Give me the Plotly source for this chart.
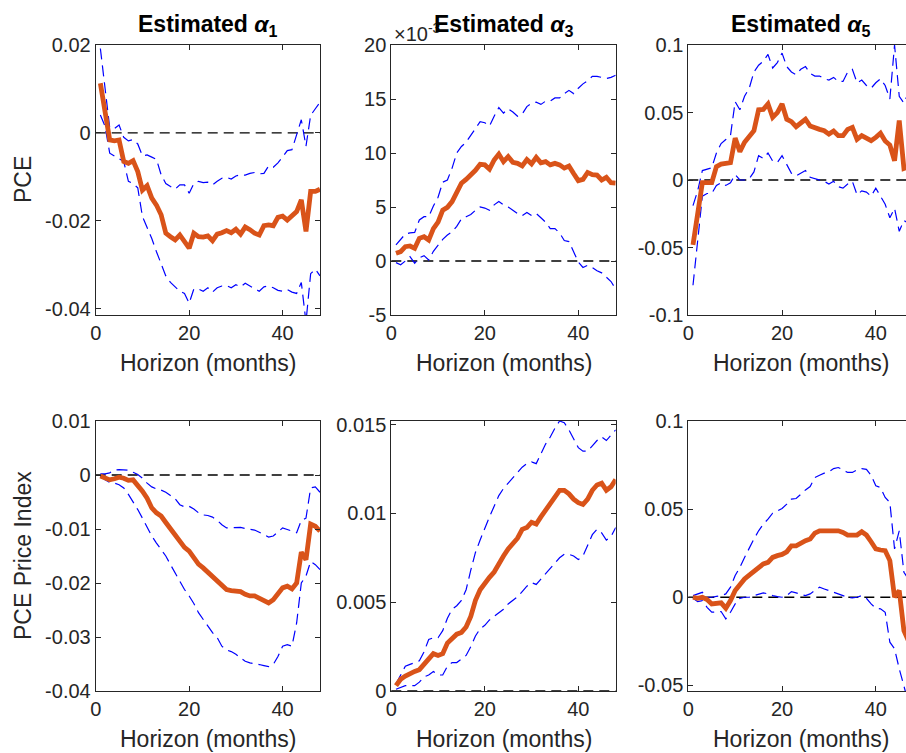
import plotly.graph_objects as go

# ---------------- data ----------------
horizon = list(range(1, 49))

# Row 1: PCE
pce_a1_mean = [0.0113, 0.0052, -0.0016, -0.0018, -0.0016, -0.0065, -0.0069, -0.0063, -0.0088, -0.0130,
               -0.0120, -0.0148, -0.0164, -0.0186, -0.0228, -0.0236, -0.0243, -0.0232, -0.0247, -0.0262,
               -0.0228, -0.0236, -0.0237, -0.0234, -0.0245, -0.0230, -0.0227, -0.0222, -0.0227, -0.0219,
               -0.0230, -0.0214, -0.0220, -0.0228, -0.0232, -0.0211, -0.0209, -0.0211, -0.0192, -0.0189,
               -0.0198, -0.0190, -0.0179, -0.0152, -0.0224, -0.0133, -0.0133, -0.0128]
pce_a1_upper = [0.0192, 0.0100, 0.0012, 0.0010, 0.0018, -0.0010, -0.0018, -0.0015, -0.0025, -0.0052,
                -0.0050, -0.0055, -0.0060, -0.0095, -0.0115, -0.0122, -0.0128, -0.0118, -0.0118, -0.0137,
                -0.0115, -0.0110, -0.0113, -0.0112, -0.0118, -0.0110, -0.0103, -0.0101, -0.0105, -0.0098,
                -0.0095, -0.0096, -0.0092, -0.0090, -0.0093, -0.0092, -0.0075, -0.0078, -0.0068, -0.0055,
                -0.0040, -0.0038, -0.0005, 0.0030, -0.0030, 0.0040, 0.0055, 0.0070]
pce_a1_lower = [0.0041, 0.0015, -0.0046, -0.0052, -0.0058, -0.0065, -0.0110, -0.0115, -0.0125, -0.0190,
                -0.0215, -0.0240, -0.0270, -0.0300, -0.0325, -0.0340, -0.0350, -0.0360, -0.0365, -0.0387,
                -0.0355, -0.0355, -0.0360, -0.0352, -0.0362, -0.0352, -0.0348, -0.0347, -0.0352, -0.0345,
                -0.0350, -0.0342, -0.0348, -0.0355, -0.0360, -0.0350, -0.0348, -0.0352, -0.0358, -0.0360,
                -0.0356, -0.0362, -0.0365, -0.0340, -0.0430, -0.0320, -0.0310, -0.0325]

# values in units of 1e-3
pce_a3_mean = [0.71, 0.86, 1.33, 1.39, 1.17, 2.10, 2.25, 1.94, 3.00, 3.60,
               4.70, 4.97, 5.50, 6.40, 7.20, 7.56, 7.96, 8.40, 8.95, 8.90,
               8.50, 9.35, 9.90, 9.20, 9.66, 9.14, 9.04, 8.80, 9.40, 9.00,
               9.60, 9.10, 9.20, 8.90, 9.04, 8.90, 8.60, 8.80, 8.10, 7.44,
               7.56, 8.20, 8.00, 7.96, 7.50, 7.75, 7.25, 7.20]
pce_a3_upper = [1.50, 2.00, 2.50, 2.60, 2.65, 3.80, 4.10, 4.10, 5.10, 5.90,
                7.30, 7.50, 8.60, 10.00, 10.60, 11.00, 11.60, 12.30, 12.90, 12.80,
                12.50, 13.40, 14.20, 13.70, 14.10, 13.80, 13.40, 13.60, 14.30, 14.60,
                14.70, 14.50, 14.80, 14.80, 15.10, 15.10, 15.50, 15.80, 15.50, 16.00,
                16.40, 16.70, 17.10, 17.10, 17.00, 16.90, 17.00, 17.20]
pce_a3_lower = [-0.15, -0.35, 0.00, 0.40, -0.20, 0.30, 0.50, 0.10, 0.90, 1.50,
                2.00, 2.40, 2.70, 3.20, 3.90, 4.10, 4.30, 4.70, 5.00, 4.90,
                4.70, 5.20, 5.50, 5.20, 5.00, 4.70, 4.40, 4.20, 4.50, 4.20,
                4.40, 4.00, 3.60, 3.00, 3.00, 2.60, 1.90, 1.80, 0.90, -0.10,
                -0.60, -0.40, -0.60, -0.90, -1.10, -1.50, -1.90, -2.60]

pce_a5_mean = [-0.0480, -0.0247, -0.0020, -0.0020, -0.0020, 0.0099, 0.0118, 0.0123, 0.0128, 0.0310,
               0.0210, 0.0280, 0.0320, 0.0365, 0.0520, 0.0523, 0.0563, 0.0464, 0.0499, 0.0563,
               0.0450, 0.0432, 0.0395, 0.0420, 0.0450, 0.0400, 0.0383, 0.0375, 0.0365, 0.0340,
               0.0363, 0.0328, 0.0328, 0.0375, 0.0390, 0.0301, 0.0328, 0.0314, 0.0291, 0.0316,
               0.0346, 0.0289, 0.0259, 0.0143, 0.0440, 0.0086, 0.0100, 0.0080]
pce_a5_upper = [-0.019, -0.008, 0.007, 0.008, 0.009, 0.020, 0.027, 0.030, 0.033, 0.058,
                0.052, 0.062, 0.068, 0.080, 0.085, 0.088, 0.093, 0.083, 0.087, 0.094,
                0.084, 0.080, 0.078, 0.082, 0.084, 0.079, 0.077, 0.077, 0.075, 0.074,
                0.076, 0.073, 0.073, 0.080, 0.082, 0.072, 0.074, 0.070, 0.068, 0.072,
                0.075, 0.070, 0.060, 0.100, 0.062, 0.057, 0.065, 0.055]
pce_a5_lower = [-0.078, -0.045, -0.012, -0.010, -0.010, -0.004, -0.002, -0.004, -0.002, 0.004,
                0.000, 0.000, 0.001, 0.006, 0.018, 0.016, 0.020, 0.014, 0.013, 0.018,
                0.011, 0.005, 0.003, 0.005, 0.007, 0.002, 0.001, 0.000, -0.001, -0.003,
                -0.001, -0.005, -0.006, -0.003, -0.001, -0.011, -0.008, -0.009, -0.012, -0.006,
                -0.012, -0.018, -0.028, -0.021, -0.038, -0.030, -0.032, -0.040]

# Row 2: PCE Price Index
pcepi_a1_mean = [-0.0002, -0.0006, -0.0009, -0.0007, -0.0004, -0.0006, -0.0010, -0.0009, -0.0018, -0.0030,
                 -0.0043, -0.0061, -0.0070, -0.0076, -0.0088, -0.0100, -0.0112, -0.0125, -0.0134, -0.0141,
                 -0.0154, -0.0165, -0.0172, -0.0180, -0.0187, -0.0197, -0.0206, -0.0212, -0.0214, -0.0215,
                 -0.0216, -0.0221, -0.0224, -0.0224, -0.0228, -0.0232, -0.0237, -0.0231, -0.0221, -0.0209,
                 -0.0206, -0.0211, -0.0200, -0.0143, -0.0157, -0.0091, -0.0095, -0.0104]
pcepi_a1_upper = [0.0002, 0.0002, 0.0004, 0.0009, 0.0010, 0.0010, 0.0009, 0.0005, 0.0001, -0.0006,
                  -0.0015, -0.0022, -0.0026, -0.0028, -0.0032, -0.0038, -0.0044, -0.0055, -0.0059, -0.0058,
                  -0.0063, -0.0070, -0.0074, -0.0075, -0.0078, -0.0084, -0.0092, -0.0098, -0.0098, -0.0097,
                  -0.0097, -0.0099, -0.0101, -0.0102, -0.0106, -0.0110, -0.0115, -0.0113, -0.0106, -0.0098,
                  -0.0101, -0.0104, -0.0107, -0.0084, -0.0080, -0.0024, -0.0022, -0.0032]
pcepi_a1_lower = [-0.0002, -0.0009, -0.0014, -0.0015, -0.0018, -0.0024, -0.0036, -0.0049, -0.0064, -0.0080,
                  -0.0098, -0.0113, -0.0126, -0.0138, -0.0150, -0.0166, -0.0181, -0.0197, -0.0212, -0.0224,
                  -0.0238, -0.0255, -0.0268, -0.0280, -0.0292, -0.0301, -0.0317, -0.0324, -0.0327, -0.0332,
                  -0.0338, -0.0345, -0.0348, -0.0349, -0.0351, -0.0353, -0.0355, -0.0351, -0.0336, -0.0317,
                  -0.0314, -0.0317, -0.0274, -0.0200, -0.0187, -0.0160, -0.0166, -0.0175]

pcepi_a3_mean = [0.0003, 0.00066, 0.00084, 0.0010, 0.0011, 0.0012, 0.0015, 0.0018, 0.0021, 0.0020,
                 0.0021, 0.0027, 0.0030, 0.0032, 0.0033, 0.0036, 0.0042, 0.0051, 0.0057, 0.0061,
                 0.0064, 0.0067, 0.0072, 0.0076, 0.0080, 0.0083, 0.0086, 0.0091, 0.0092, 0.0095,
                 0.0094, 0.0098, 0.0102, 0.0105, 0.0109, 0.0113, 0.0113, 0.0111, 0.0108, 0.0106,
                 0.0105, 0.0108, 0.0113, 0.0116, 0.0117, 0.0113, 0.0115, 0.0119]
pcepi_a3_upper = [0.0004, 0.0009, 0.0014, 0.0015, 0.0016, 0.0017, 0.0022, 0.0029, 0.0030, 0.0030,
                  0.0034, 0.0041, 0.0046, 0.0048, 0.0051, 0.0057, 0.0068, 0.0078, 0.0085, 0.0092,
                  0.0098, 0.0104, 0.0110, 0.0114, 0.0117, 0.0120, 0.0123, 0.0126, 0.0128, 0.0129,
                  0.0128, 0.0134, 0.0139, 0.0143, 0.0148, 0.0152, 0.0151, 0.0147, 0.0142, 0.0137,
                  0.0135, 0.0135, 0.0138, 0.0141, 0.0143, 0.0141, 0.0144, 0.0147]
pcepi_a3_lower = [0.0001, 0.0002, 0.0003, 0.0003, 0.0003, 0.0005, 0.0008, 0.0009, 0.0011, 0.0009,
                  0.0009, 0.0014, 0.0016, 0.0016, 0.0018, 0.0020, 0.0025, 0.0031, 0.0035, 0.0037,
                  0.0040, 0.0042, 0.0044, 0.0046, 0.0049, 0.0051, 0.0053, 0.0056, 0.0059, 0.0061,
                  0.0060, 0.0063, 0.0066, 0.0069, 0.0072, 0.0075, 0.0077, 0.0077, 0.0076, 0.0074,
                  0.0076, 0.0082, 0.0088, 0.0091, 0.0089, 0.0085, 0.0087, 0.0092]

pcepi_a5_mean = [0.0000, -0.0006, 0.0000, -0.0013, -0.0038, -0.0038, -0.0032, -0.0062, -0.0019, 0.0038,
                 0.0075, 0.0104, 0.0126, 0.0147, 0.0170, 0.0189, 0.0198, 0.0226, 0.0236, 0.0243,
                 0.0258, 0.0292, 0.0292, 0.0308, 0.0321, 0.0330, 0.0364, 0.0377, 0.0377, 0.0379,
                 0.0383, 0.0377, 0.0368, 0.0353, 0.0353, 0.0353, 0.0372, 0.0353, 0.0315, 0.0274,
                 0.0268, 0.0264, 0.0208, 0.0000, 0.0038, -0.0189, -0.0250, -0.0300]
pcepi_a5_upper = [0.0009, 0.0019, 0.0028, 0.0000, 0.0000, 0.0005, 0.0009, 0.0019, 0.0057, 0.0123,
                  0.0170, 0.0226, 0.0283, 0.0330, 0.0377, 0.0415, 0.0443, 0.0477, 0.0490, 0.0504,
                  0.0528, 0.0557, 0.0560, 0.0585, 0.0609, 0.0628, 0.0679, 0.0692, 0.0704, 0.0711,
                  0.0730, 0.0736, 0.0721, 0.0708, 0.0708, 0.0723, 0.0730, 0.0726, 0.0692, 0.0632,
                  0.0623, 0.0566, 0.0538, 0.0274, 0.0377, 0.0142, 0.0100, 0.0050]
pcepi_a5_lower = [-0.0006, -0.0025, -0.0019, -0.0057, -0.0085, -0.0085, -0.0081, -0.0123, -0.0085, -0.0038,
                  -0.0006, 0.0000, 0.0000, 0.0009, 0.0015, 0.0025, 0.0019, 0.0009, 0.0004, 0.0000,
                  0.0009, 0.0032, 0.0025, 0.0019, 0.0009, 0.0019, 0.0038, 0.0057, 0.0047, 0.0038,
                  0.0028, 0.0019, 0.0009, 0.0000, -0.0004, 0.0000, 0.0009, -0.0006, -0.0038, -0.0062,
                  -0.0066, -0.0085, -0.0255, -0.0292, -0.0406, -0.0500, -0.0600, -0.0700]

# tick labels
x_ticks = [0, 20, 40]
x_ticktext = ["0", "20", "40"]
y_ticks_pce_a1 = [-0.04, -0.02, 0, 0.02]
y_text_pce_a1 = ["-0.04", "-0.02", "0", "0.02"]
y_ticks_pce_a3 = [-5, 0, 5, 10, 15, 20]
y_text_pce_a3 = ["-5", "0", "5", "10", "15", "20"]
y_ticks_pce_a5 = [-0.1, -0.05, 0, 0.05, 0.1]
y_text_pce_a5 = ["-0.1", "-0.05", "0", "0.05", "0.1"]
y_ticks_pcepi_a1 = [-0.04, -0.03, -0.02, -0.01, 0, 0.01]
y_text_pcepi_a1 = ["-0.04", "-0.03", "-0.02", "-0.01", "0", "0.01"]
y_ticks_pcepi_a3 = [0, 0.005, 0.01, 0.015]
y_text_pcepi_a3 = ["0", "0.005", "0.01", "0.015"]
y_ticks_pcepi_a5 = [-0.05, 0, 0.05, 0.1]
y_text_pcepi_a5 = ["-0.05", "0", "0.05", "0.1"]

titles = ["Estimated <i>α</i><sub>1</sub>", "Estimated <i>α</i><sub>3</sub>", "Estimated <i>α</i><sub>5</sub>"]
row_labels = ["PCE", "PCE Price Index"]
x_label = "Horizon (months)"

# ---------------- layout geometry (window pixels) ----------------
W, H = 906, 753


def px_x(v):
    return v / W


def px_y(v):
    return 1 - v / H


col_px = [(95.7, 320.0), (391.3, 615.7), (688.3, 906.0)]
col_full_right = [320.0, 615.7, 913.3]  # where x=48 would sit
row_px = [(45.0, 315.0), (421.0, 691.0)]
y_ranges = [[[-0.0414, 0.02], [-5, 20], [-0.1, 0.1]],
            [[-0.04, 0.01], [0, 0.0152], [-0.0532, 0.1]]]

panels = [
    [(pce_a1_mean, pce_a1_upper, pce_a1_lower, y_ticks_pce_a1, y_text_pce_a1),
     (pce_a3_mean, pce_a3_upper, pce_a3_lower, y_ticks_pce_a3, y_text_pce_a3),
     (pce_a5_mean, pce_a5_upper, pce_a5_lower, y_ticks_pce_a5, y_text_pce_a5)],
    [(pcepi_a1_mean, pcepi_a1_upper, pcepi_a1_lower, y_ticks_pcepi_a1, y_text_pcepi_a1),
     (pcepi_a3_mean, pcepi_a3_upper, pcepi_a3_lower, y_ticks_pcepi_a3, y_text_pcepi_a3),
     (pcepi_a5_mean, pcepi_a5_upper, pcepi_a5_lower, y_ticks_pcepi_a5, y_text_pcepi_a5)],
]

FONT = "Liberation Sans, Arial, Helvetica, sans-serif"
AXC = "#262626"
ORANGE = "#D95319"
BLUE = "#0000FF"

fig = go.Figure()
layout = {}
annotations = []
shapes = []

idx = 0
for r in range(2):
    for c in range(3):
        idx += 1
        xa = "x" if idx == 1 else f"x{idx}"
        ya = "y" if idx == 1 else f"y{idx}"
        xkey = "xaxis" if idx == 1 else f"xaxis{idx}"
        ykey = "yaxis" if idx == 1 else f"yaxis{idx}"
        mean, upper, lower, ytv, ytt = panels[r][c]
        x0, x1 = col_px[c]
        full_r = col_full_right[c]
        xmax = 48 * (x1 - x0) / (full_r - x0)
        y0, y1 = row_px[r]
        layout[xkey] = dict(
            domain=[px_x(x0), min(1.0, px_x(x1))], range=[0, xmax], anchor=ya, automargin=False,
            tickmode="array", tickvals=x_ticks, ticktext=x_ticktext,
            ticks="inside", ticklen=5, tickwidth=1, tickcolor=AXC,
            showline=True, linecolor=AXC, linewidth=1, mirror="ticks",
            showgrid=False, zeroline=False,
            tickfont=dict(family=FONT, size=20, color=AXC),
        )
        layout[ykey] = dict(
            domain=[px_y(y1), px_y(y0)], range=y_ranges[r][c], anchor=xa, automargin=False,
            tickmode="array", tickvals=ytv, ticktext=ytt,
            ticks="inside", ticklen=5, tickwidth=1, tickcolor=AXC,
            showline=True, linecolor=AXC, linewidth=1,
            mirror=("ticks" if c < 2 else False),
            showgrid=False, zeroline=False,
            tickfont=dict(family=FONT, size=20, color=AXC),
        )
        # zero reference line
        shapes.append(dict(type="line", xref=f"{xa} domain", yref=ya, x0=0, x1=1, y0=0, y1=0,
                           line=dict(color="black", width=1.3, dash="10px,6px"), layer="below"))
        for band in (upper, lower):
            fig.add_trace(go.Scatter(x=horizon, y=band, xaxis=xa, yaxis=ya, mode="lines",
                                     line=dict(color=BLUE, width=1.2, dash="11px,6px"),
                                     showlegend=False, hoverinfo="skip"))
        fig.add_trace(go.Scatter(x=horizon, y=mean, xaxis=xa, yaxis=ya, mode="lines",
                                 line=dict(color=ORANGE, width=4.8),
                                 showlegend=False, hoverinfo="skip"))
        # x label
        xc = (x0 + full_r) / 2
        annotations.append(dict(text=x_label, xref="paper", yref="paper",
                                x=px_x(xc), y=px_y(y1 + 48), xanchor="center", yanchor="middle",
                                showarrow=False, font=dict(family=FONT, size=23, color=AXC)))

# scale factor label (top middle)
annotations.append(dict(text="×10<sup>-3</sup>", xref="paper", yref="paper",
                        x=px_x(392), y=px_y(33), xanchor="left", yanchor="middle",
                        showarrow=False, font=dict(family=FONT, size=20, color=AXC)))
# column titles
for c in range(3):
    x0, x1 = col_px[c]
    full_r = col_full_right[c]
    xc = (x0 + full_r) / 2
    annotations.append(dict(text="<b>" + titles[c] + "</b>", xref="paper", yref="paper",
                            x=px_x(xc), y=px_y(26), xanchor="center", yanchor="middle",
                            showarrow=False, font=dict(family=FONT, size=23, color="black")))
# row labels
for r in range(2):
    y0, y1 = row_px[r]
    annotations.append(dict(text=row_labels[r], xref="paper", yref="paper",
                            x=px_x(23), y=px_y((y0 + y1) / 2), xanchor="center", yanchor="middle",
                            textangle=-90, showarrow=False,
                            font=dict(family=FONT, size=23, color=AXC)))

fig.update_layout(**layout)
fig.update_layout(
    width=W, height=H, margin=dict(l=0, r=0, t=0, b=0, autoexpand=False),
    paper_bgcolor="white", plot_bgcolor="white",
    annotations=annotations, shapes=shapes, showlegend=False,
)
fig.write_html(
    "out.html",
    config={"displayModeBar": False},
    post_script="document.body.style.margin='0';document.body.style.overflow='hidden';"
                "document.documentElement.style.overflow='hidden';",
)
